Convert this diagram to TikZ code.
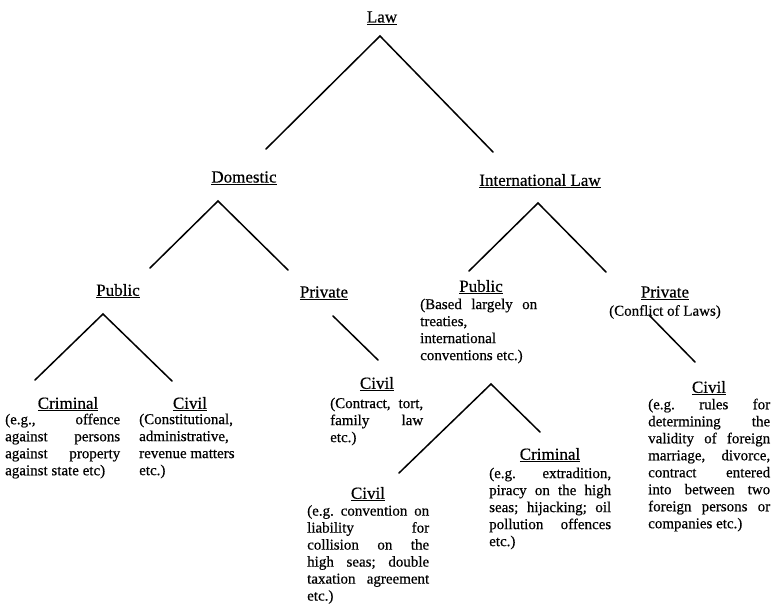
\documentclass[tikz,border=0pt]{standalone}
\usepackage{fontspec}
\setmainfont{Liberation Serif}[FakeBold=0.5]
\setlength{\parindent}{0pt}
\tolerance=10000
\hyphenpenalty=10000
\frenchspacing
\begin{document}
\begin{tikzpicture}[x=1pt,y=-1pt,
  heading/.style={font=\fontsize{17}{20}\selectfont, inner sep=0pt, anchor=center},
  bodyfont/.style={font=\fontsize{15}{17}\selectfont, inner sep=0pt},
  body/.style={bodyfont, anchor=north west, align=justify},
  branch/.style={line width=1.5pt, line cap=round},
]
\useasboundingbox (0,0) rectangle (772,604);

% headings
\node[heading] (law)   at (382,18)  {\underline{Law}};
\node[heading] (dom)   at (244,178) {\underline{Domestic}};
\node[heading] (intl)  at (540,181) {\underline{International Law}};
\node[heading] (pubd)  at (118,291) {\underline{Public}};
\node[heading] (privd) at (324,293) {\underline{Private}};
\node[heading] (crimd) at (68,404)  {\underline{Criminal}};
\node[heading] (civd)  at (190,404) {\underline{Civil}};
\node[heading] (civc)  at (377,384) {\underline{Civil}};
\node[heading] (pubi)  at (481,287) {\underline{Public}};
\node[heading] (privi) at (665,293) {\underline{Private}};
\node[heading] (civp)  at (709,388) {\underline{Civil}};
\node[heading] (crimi) at (550,455) {\underline{Criminal}};
\node[heading] (civi)  at (368,494) {\underline{Civil}};

% descriptions
\node[body, text width=115pt] (crimdT) at (5,413.5)
  {(e.g., offence\linebreak against persons\linebreak against property\linebreak against state etc)};
\node[body, text width=105pt] (civdT) at (139,413.5)
  {(Constitutional,\newline administrative,\newline revenue matters\newline etc.)};
\node[body, text width=93pt] (civcT) at (330,397.5)
  {(Contract, tort,\linebreak family law\linebreak etc.)};
\node[body, text width=117pt] (pubiT) at (420,298.5)
  {(Based largely on\linebreak treaties,\newline international\newline conventions etc.)};
\node[bodyfont, anchor=center] (conf) at (665,312) {(Conflict of Laws)};
\node[body, text width=122pt] (civiT) at (307,505)
  {(e.g. convention on\linebreak liability for\linebreak collision on the\linebreak high seas; double\linebreak taxation agreement\linebreak etc.)};
\node[body, text width=122pt] (crimiT) at (489,467.5)
  {(e.g. extradition,\linebreak piracy on the high\linebreak seas; hijacking; oil\linebreak pollution offences\linebreak etc.)};
\node[body, text width=122pt] (civpT) at (648,398.5)
  {(e.g. rules for\linebreak determining the\linebreak validity of foreign\linebreak marriage, divorce,\linebreak contract entered\linebreak into between two\linebreak foreign persons or\linebreak companies etc.)};

% branch points
\coordinate (lawA)  at (380,36);
\coordinate (lawL)  at (266,149);
\coordinate (lawR)  at (493,152);
\coordinate (domA)  at (218,201);
\coordinate (domL)  at (150,268);
\coordinate (domR)  at (288,270);
\coordinate (intA)  at (538,203);
\coordinate (intL)  at (469,271);
\coordinate (intR)  at (606,272);
\coordinate (pdA)   at (103,314);
\coordinate (pdL)   at (35,380);
\coordinate (pdR)   at (172,381);
\coordinate (vdA)   at (333,316);
\coordinate (vdB)   at (378,360);
\coordinate (piA)   at (491,384);
\coordinate (piL)   at (399,473);
\coordinate (piR)   at (540,432);
\coordinate (viA)   at (649,315);
\coordinate (viB)   at (695,362);

% branches
\draw[branch] (lawL) -- (lawA) -- (lawR);
\draw[branch] (domL) -- (domA) -- (domR);
\draw[branch] (intL) -- (intA) -- (intR);
\draw[branch] (pdL) -- (pdA) -- (pdR);
\draw[branch] (vdA) -- (vdB);
\draw[branch] (piL) -- (piA) -- (piR);
\draw[branch] (viA) -- (viB);
\end{tikzpicture}
\end{document}
